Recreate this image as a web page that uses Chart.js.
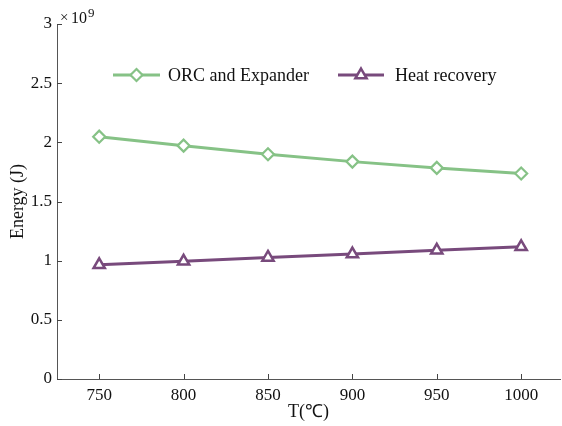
<!DOCTYPE html>
<html>
<head>
<meta charset="utf-8">
<script src="https://cdn.jsdelivr.net/npm/chart.js@4.4.1/dist/chart.umd.min.js"></script>
<style>
  html, body { margin: 0; padding: 0; background: #fff; }
  #wrap { width: 562px; height: 426px; }
</style>
</head>
<body>
<div id="wrap"><canvas id="grafico"></canvas></div>
<script>
// temperaturas e energia (x 10^9 J)
const temps = [750, 800, 850, 900, 950, 1000]
const orcExpander = [2.048, 1.972, 1.899, 1.837, 1.784, 1.737]
const heatRecovery = [0.965, 0.995, 1.027, 1.056, 1.087, 1.117]
const yTicks = [0, 0.5, 1, 1.5, 2, 2.5, 3]

const verde = '#86c286'
const roxo = '#784a7c'
const serif = '"Liberation Serif", "Times New Roman", serif'

Chart.defaults.font.family = serif
Chart.defaults.color = '#111'

const pontos = (arr) => temps.map((t, i) => ({ x: t, y: arr[i] }))

const data = {
  datasets: [{
    label: 'ORC and Expander',
    data: pontos(orcExpander),
    borderColor: verde,
    backgroundColor: '#fff',
    borderWidth: 3,
    pointStyle: 'rectRot',
    pointRadius: 6,
    pointBorderWidth: 2.2,
    pointBackgroundColor: '#fff',
    pointBorderColor: verde
  }, {
    label: 'Heat recovery',
    data: pontos(heatRecovery),
    borderColor: roxo,
    backgroundColor: '#fff',
    borderWidth: 3,
    pointStyle: 'triangle',
    pointRadius: 6.5,
    pointBorderWidth: 2.5,
    pointBackgroundColor: '#fff',
    pointBorderColor: roxo
  }]
}

// desenha um marcador (losango ou triângulo)
function marcador(ctx, estilo, x, y, r, cor, lw) {
  ctx.save()
  ctx.beginPath()
  if (estilo === 'rectRot') {
    ctx.moveTo(x, y - r); ctx.lineTo(x + r, y); ctx.lineTo(x, y + r); ctx.lineTo(x - r, y)
  } else {
    const h = r * Math.sqrt(3) / 2
    ctx.moveTo(x, y - r); ctx.lineTo(x + h, y + r / 2); ctx.lineTo(x - h, y + r / 2)
  }
  ctx.closePath()
  ctx.fillStyle = '#fff'
  ctx.fill()
  ctx.lineWidth = lw
  ctx.strokeStyle = cor
  ctx.stroke()
  ctx.restore()
}

// legenda dentro da área do gráfico, com linha + marcador
const legendaInterna = {
  id: 'legendaInterna',
  afterDraw(chart) {
    const ctx = chart.ctx
    const itens = [{ x0: 113, x1: 160, tx: 168 }, { x0: 338, x1: 384, tx: 395 }]
    const y = 75
    chart.data.datasets.forEach((ds, i) => {
      const it = itens[i]
      ctx.save()
      ctx.strokeStyle = ds.borderColor
      ctx.lineWidth = 3
      ctx.beginPath(); ctx.moveTo(it.x0, y); ctx.lineTo(it.x1, y); ctx.stroke()
      marcador(ctx, ds.pointStyle, (it.x0 + it.x1) / 2, y, ds.pointRadius, ds.pointBorderColor, ds.pointBorderWidth)
      ctx.fillStyle = '#111'
      ctx.font = '18px ' + serif
      ctx.textBaseline = 'middle'
      ctx.fillText(ds.label, it.tx, y + 1)
      ctx.restore()
    })
  }
}

// marcas de escala voltadas para dentro e o fator x10^9
const eixos = {
  id: 'eixos',
  afterDraw(chart) {
    const ctx = chart.ctx
    const { left, bottom } = chart.chartArea
    const sx = chart.scales.x, sy = chart.scales.y
    ctx.save()
    ctx.strokeStyle = '#444'
    ctx.lineWidth = 1
    ctx.beginPath()
    sx.ticks.forEach((t, i) => {
      const px = Math.round(sx.getPixelForTick(i)) + 0.5
      ctx.moveTo(px, bottom); ctx.lineTo(px, bottom - 5)
    })
    sy.ticks.forEach((t, i) => {
      const py = Math.round(sy.getPixelForTick(i)) + 0.5
      ctx.moveTo(left, py); ctx.lineTo(left + 5, py)
    })
    ctx.stroke()

    ctx.fillStyle = '#111'
    ctx.textBaseline = 'alphabetic'
    ctx.font = '15px ' + serif
    ctx.fillText('×', 60, 22)
    ctx.font = '16px ' + serif
    ctx.fillText('10', 71, 23)
    ctx.font = '13px ' + serif
    ctx.fillText('9', 88, 17)
    ctx.restore()
  }
}

const config = {
  type: 'line',
  data,
  options: {
    responsive: true,
    maintainAspectRatio: false,
    animation: false,
    layout: { autoPadding: false, padding: { top: 24, right: 2, left: 0, bottom: 0 } },
    plugins: {
      legend: { display: false },
      tooltip: { enabled: false }
    },
    scales: {
      x: {
        type: 'linear',
        min: 725,
        max: 1023,
        afterBuildTicks: (s) => { s.ticks = temps.map(v => ({ value: v })) },
        afterFit: (s) => { s.height = 47; s.paddingLeft = 0; s.paddingRight = 0 },
        border: { display: true, color: '#555', width: 1 },
        grid: { display: false, drawTicks: false },
        ticks: { font: { size: 17 }, color: '#111', padding: 6, callback: (v) => String(v) },
        title: {
          display: true,
          text: 'T(℃)',
          font: { size: 18 },
          color: '#111',
          padding: { top: 0, bottom: 3 }
        }
      },
      y: {
        min: 0,
        max: 3,
        afterBuildTicks: (s) => { s.ticks = yTicks.map(v => ({ value: v })) },
        afterFit: (s) => { s.width = 57 },
        border: { display: true, color: '#555', width: 1 },
        grid: { display: false, drawTicks: false },
        ticks: {
          font: { size: 17 },
          color: '#111',
          padding: 5,
          callback: (v) => String(v)
        },
        title: {
          display: true,
          text: 'Energy (J)',
          font: { size: 18 },
          color: '#111',
          padding: { top: 7, bottom: 0 }
        }
      }
    }
  },
  plugins: [legendaInterna, eixos]
}

const grafico = new Chart(document.getElementById('grafico'), config)
</script>
</body>
</html>
